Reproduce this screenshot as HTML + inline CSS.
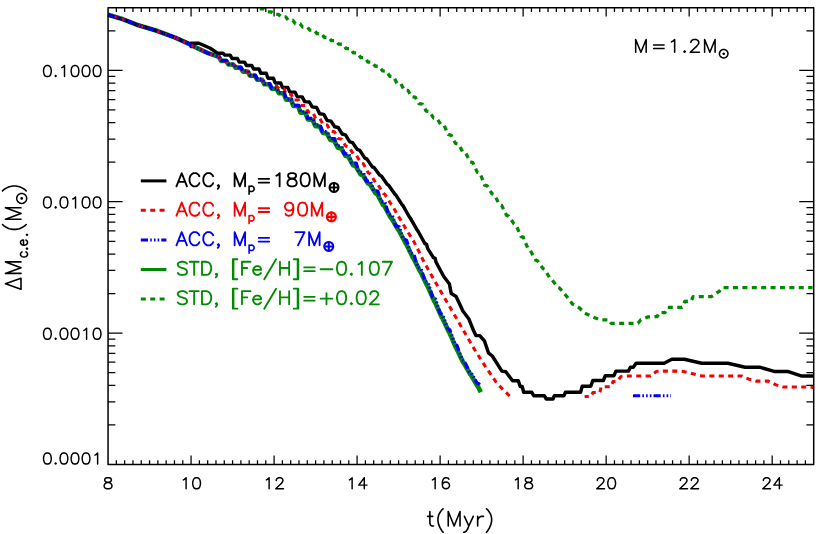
<!DOCTYPE html>
<html lang="en">
<head>
<meta charset="utf-8">
<title>Delta M c.e. vs t (Myr), M=1.2 Msun</title>
<style>
html,body{margin:0;padding:0;background:#ffffff;}
body{width:830px;height:534px;overflow:hidden;font-family:"Liberation Sans",sans-serif;}
svg{display:block;}
</style>
</head>
<body>
<svg width="830" height="534" viewBox="0 0 830 534">
<rect x="0" y="0" width="830" height="534" fill="#ffffff"/>
<g fill="none" stroke-linejoin="round" stroke-linecap="butt">
<path d="M108.1 14.8 L123.1 19.3 L136.6 24.7 L155.9 30.5 L175.2 37.6 L190.6 44.6 L191.0 45.2 L207.9 53.1 L218.7 56.7 L221.3 61.0 L226.1 61.0 L228.5 64.5 L233.3 64.5 L235.7 67.8 L240.5 67.8 L242.9 71.6 L247.7 71.6 L250.1 75.8 L254.9 75.8 L257.3 79.8 L262.1 79.8 L264.5 84.3 L269.3 84.3 L271.7 88.7 L276.5 88.7 L278.9 93.3 L283.7 93.3 L286.1 99.6 L290.9 99.6 L293.3 106.0 L298.1 106.0 L300.5 112.6 L305.3 112.7 L307.9 119.4 L312.5 119.7 L315.4 126.1 L319.7 126.5 L323.0 133.0 L326.9 133.5 L330.5 140.1 L334.1 140.7 L338.0 147.8 L341.3 148.5 L345.5 155.9 L348.5 156.8 L353.0 165.2 L355.7 166.1 L360.5 174.3 L362.9 175.3 L368.0 183.5 L370.1 184.5 L375.5 193.3 L377.3 194.2 L383.0 205.0 L384.5 206.1 L390.6 217.6 L391.7 218.5 L398.1 229.7 L398.9 230.5 L405.6 243.3 L406.1 243.7 L412.8 257.5 L413.3 258.0 L420.0 271.3 L420.5 271.7 L427.2 285.8 L427.7 286.4 L434.4 301.5 L434.9 302.1 L441.6 317.0 L442.1 317.5 L448.8 331.8 L449.3 332.3 L456.0 347.8 L456.5 348.4 L463.2 362.4 L463.7 362.8 L470.4 374.5 L470.9 374.8 L477.6 386.3 L478.1 386.8 L480.8 392.3" stroke="#008a00" stroke-width="4.6"/>
<path d="M258.7 7.8 L258.7 8.9 L264.0 8.9 L266.6 11.8 L271.2 11.8 L273.8 14.3 L278.4 14.3 L281.0 16.8 L285.6 16.8 L288.2 20.2 L292.8 20.2 L295.4 23.8 L300.0 23.8 L302.6 27.0 L307.2 27.0 L309.8 30.1 L314.4 30.1 L317.0 33.7 L321.6 33.7 L324.2 37.3 L328.8 37.3 L331.4 40.7 L336.0 40.7 L338.7 44.2 L343.2 44.3 L346.0 48.5 L350.4 48.6 L353.3 52.9 L357.6 53.0 L360.6 57.5 L364.8 57.7 L367.9 62.0 L372.0 62.2 L375.2 66.2 L379.2 66.3 L382.5 70.9 L386.4 71.2 L389.8 76.3 L393.6 76.7 L397.0 83.3 L400.8 83.7 L404.3 90.2 L408.0 90.5 L411.6 96.7 L415.2 97.2 L418.9 103.6 L422.4 104.1 L426.2 111.1 L429.6 111.6 L433.5 118.0 L436.8 118.5 L440.8 124.4 L444.0 125.1 L448.1 134.4 L451.2 135.3 L455.4 143.3 L458.4 144.0 L462.7 151.8 L465.6 152.6 L470.0 161.7 L472.8 162.6 L477.3 172.2 L480.0 173.0 L484.6 185.1 L487.2 185.9 L491.9 193.7 L494.4 194.5 L499.2 204.4 L501.6 205.3 L506.5 215.2 L508.8 216.3 L513.8 223.6 L516.0 225.1 L521.1 236.6 L523.2 237.2 L528.4 249.6 L530.4 250.7 L535.7 260.1 L537.6 260.9 L543.0 268.6 L544.8 269.5 L550.3 278.9 L552.0 279.7 L557.6 287.1 L559.2 287.7 L560.0 288.7 L560.8 289.5 L566.6 296.3 L572.4 304.0 L579.2 307.8 L584.9 313.2 L592.7 316.9 L600.4 319.8 L609.0 319.8 L611.0 323.3 L638.0 323.3 L640.8 319.8 L647.6 316.9 L657.2 316.5 L659.2 312.7 L664.9 312.7 L667.8 307.4 L682.0 307.4 L684.8 301.5 L691.2 301.0 L693.1 296.6 L711.4 296.6 L719.2 291.4 L722.0 287.7 L812.5 287.7" stroke="#008a00" stroke-width="3.3" stroke-dasharray="5 4.4" stroke-dashoffset="7.26"/>
<path d="M108.1 14.8 L123.1 19.3 L136.6 24.7 L155.9 30.5 L175.2 37.6 L190.6 44.3 L191.2 46.6 L191.0 43.2 L198.9 43.2 L210.3 48.3 L217.5 53.1 L217.5 53.2 L223.0 53.2 L224.8 55.1 L230.2 55.1 L232.0 58.5 L237.4 58.5 L239.2 62.1 L244.6 62.1 L246.4 65.4 L251.8 65.4 L253.6 69.0 L259.0 69.0 L260.8 73.2 L266.2 73.2 L268.0 78.3 L273.4 78.3 L275.2 82.9 L280.6 82.9 L282.4 87.4 L287.8 87.4 L289.7 91.9 L295.0 92.1 L297.2 96.6 L302.2 96.9 L304.7 101.6 L309.4 102.0 L312.2 106.9 L316.6 107.5 L319.7 113.8 L323.8 114.4 L327.2 120.5 L331.0 121.1 L334.7 126.8 L338.2 127.5 L342.2 134.0 L345.4 134.9 L349.8 141.9 L352.6 142.7 L357.3 149.5 L359.8 150.4 L364.8 158.1 L367.0 159.1 L372.3 166.9 L374.2 167.7 L379.8 175.2 L381.4 176.0 L387.3 184.4 L388.6 185.2 L394.8 194.1 L395.8 194.9 L402.3 205.2 L403.0 205.7 L409.7 217.5 L410.2 217.9 L416.9 229.7 L417.4 230.2 L418.5 232.0 L424.9 243.6 L426.6 244.4 L427.6 248.4 L433.4 257.6 L435.2 258.4 L436.0 262.0 L443.6 276.3 L449.4 284.0 L451.3 293.6 L456.1 296.5 L462.9 311.0 L468.7 318.7 L473.3 330.0 L475.9 335.6 L479.8 335.6 L484.6 341.2 L488.4 352.8 L492.3 356.0 L501.9 371.1 L505.8 371.7 L512.5 380.7 L518.3 380.7 L520.2 386.5 L522.2 386.5 L523.7 392.3 L531.8 392.3 L533.7 395.7 L544.3 395.7 L546.3 399.0 L553.0 399.0 L554.4 395.7 L564.0 395.7 L565.4 392.3 L580.6 392.3 L582.2 386.3 L590.8 386.3 L592.8 380.5 L603.4 380.5 L605.3 375.7 L614.0 375.7 L615.9 371.1 L628.4 371.1 L630.4 367.2 L633.3 367.2 L636.1 363.3 L664.1 363.3 L671.8 359.3 L684.3 359.3 L701.7 363.3 L727.8 363.3 L745.2 367.2 L759.6 367.2 L774.1 371.4 L787.6 371.4 L801.1 375.9 L813.6 375.9" stroke="#000000" stroke-width="3.45"/>
<path d="M108.1 14.8 L123.1 19.3 L136.6 24.7 L155.9 30.5 L175.2 37.6 L190.6 44.6 L191.0 45.2 L207.9 53.1 L218.7 56.7 L218.7 57.7 L219.2 57.7 L221.4 61.1 L226.4 61.1 L228.6 64.6 L233.6 64.6 L235.8 67.9 L240.8 67.9 L243.0 71.7 L248.0 71.7 L250.2 75.9 L255.2 75.9 L257.4 79.9 L262.4 79.9 L264.6 83.9 L269.6 83.9 L271.8 86.2 L276.8 86.2 L279.0 88.7 L284.0 88.7 L286.2 94.2 L291.2 94.2 L293.4 99.9 L298.4 99.9 L300.6 105.5 L305.6 105.6 L308.1 112.0 L312.8 112.3 L315.6 118.3 L320.0 118.7 L323.1 124.5 L327.2 125.0 L330.6 131.2 L334.4 131.8 L338.1 138.6 L341.6 139.3 L345.7 146.0 L348.8 146.8 L353.2 153.8 L356.0 154.7 L360.7 162.6 L363.2 163.6 L368.2 172.8 L370.4 173.9 L375.8 183.1 L377.6 184.1 L383.3 193.4 L384.8 194.3 L390.8 203.8 L392.0 204.7 L398.3 216.7 L399.2 217.4 L405.9 229.0 L406.4 229.5 L413.1 240.7 L413.6 241.1 L420.0 253.6 L423.4 260.8 L432.0 276.3 L439.8 289.8 L446.5 301.3 L453.3 312.9 L459.0 322.8 L466.3 335.4 L475.9 351.8 L486.5 368.2 L497.1 383.6 L509.6 396.0" stroke="#f60000" stroke-width="3.05" stroke-dasharray="5 4.4" stroke-dashoffset="5.42"/>
<path d="M584.6 396.5 L591.0 396.5 L593.0 392.5 L600.0 392.5 L601.0 386.8 L611.0 386.8 L613.0 381.5 L617.0 381.5 L621.0 376.5 L626.5 375.9 L650.6 375.9 L656.4 371.4 L664.0 371.1 L677.6 371.1 L683.5 371.4 L701.8 375.9 L741.3 375.9 L749.0 379.2 L755.8 381.1 L768.3 381.1 L776.0 384.9 L782.8 386.9 L810.7 386.9 L813.6 387.8" stroke="#f60000" stroke-width="3.05" stroke-dasharray="5 4.4" stroke-dashoffset="0.8"/>
<path d="M108.1 14.8 L123.1 19.3 L136.6 24.7 L155.9 30.5 L175.2 37.6 L190.6 44.6 L191.0 45.2 L207.9 53.1 L218.7 56.7 L218.7 57.0 L219.4 57.0 L221.4 60.5 L226.6 60.5 L228.6 64.1 L233.8 64.1 L235.8 67.3 L241.0 67.3 L243.0 71.0 L248.2 71.0 L250.2 75.2 L255.4 75.2 L257.4 79.3 L262.6 79.3 L264.6 83.7 L269.8 83.7 L271.8 88.2 L277.0 88.2 L279.0 92.7 L284.2 92.7 L286.2 99.1 L291.4 99.1 L293.4 105.4 L298.6 105.4 L300.6 111.9 L305.8 111.9 L307.8 118.4 L313.0 118.4 L315.0 125.0 L320.2 125.0 L322.2 131.6 L327.4 131.6 L329.4 138.6 L334.6 138.6 L336.7 146.0 L341.8 146.2 L344.1 153.7 L349.0 154.0 L351.5 162.9 L356.2 163.3 L358.8 172.0 L363.4 172.5 L366.2 181.0 L370.6 181.6 L373.6 190.6 L377.8 191.3 L381.0 201.2 L385.0 202.3 L388.4 214.2 L392.2 215.2 L395.7 225.9 L399.4 227.0 L403.1 239.1 L406.6 240.4 L410.5 253.1 L413.8 254.5 L417.9 267.3 L421.0 268.7 L425.2 281.5 L428.2 283.1 L432.6 297.2 L435.4 298.9 L440.0 313.1 L442.6 314.7 L447.4 328.2 L449.8 329.8 L454.8 344.0 L457.0 345.7 L462.1 359.9 L464.2 361.1 L469.5 372.0 L471.4 373.2 L476.9 383.0 L478.6 383.6 L481.0 386.3" stroke="#0000fa" stroke-width="3.4" stroke-dasharray="7.2 2.2 1.6 2.1 1.6 2.1 1.6 2.1"/>
<path d="M633 395.8 L670.9 395.8" stroke="#0000fa" stroke-width="3" stroke-dasharray="7.2 2.2 1.6 2.1 1.6 2.1 1.6 2.1"/>
</g>
<path d="M116.35 464.45 V460.15 M116.35 7.70 V12.00 M124.65 464.45 V460.15 M124.65 7.70 V12.00 M132.96 464.45 V460.15 M132.96 7.70 V12.00 M141.26 464.45 V460.15 M141.26 7.70 V12.00 M149.56 464.45 V460.15 M149.56 7.70 V12.00 M157.86 464.45 V460.15 M157.86 7.70 V12.00 M166.16 464.45 V460.15 M166.16 7.70 V12.00 M174.46 464.45 V460.15 M174.46 7.70 V12.00 M182.77 464.45 V460.15 M182.77 7.70 V12.00 M191.07 464.45 V455.55 M191.07 7.70 V16.60 M199.37 464.45 V460.15 M199.37 7.70 V12.00 M207.67 464.45 V460.15 M207.67 7.70 V12.00 M215.97 464.45 V460.15 M215.97 7.70 V12.00 M224.27 464.45 V460.15 M224.27 7.70 V12.00 M232.58 464.45 V460.15 M232.58 7.70 V12.00 M240.88 464.45 V460.15 M240.88 7.70 V12.00 M249.18 464.45 V460.15 M249.18 7.70 V12.00 M257.48 464.45 V460.15 M257.48 7.70 V12.00 M265.78 464.45 V460.15 M265.78 7.70 V12.00 M274.09 464.45 V455.55 M274.09 7.70 V16.60 M282.39 464.45 V460.15 M282.39 7.70 V12.00 M290.69 464.45 V460.15 M290.69 7.70 V12.00 M298.99 464.45 V460.15 M298.99 7.70 V12.00 M307.29 464.45 V460.15 M307.29 7.70 V12.00 M315.59 464.45 V460.15 M315.59 7.70 V12.00 M323.90 464.45 V460.15 M323.90 7.70 V12.00 M332.20 464.45 V460.15 M332.20 7.70 V12.00 M340.50 464.45 V460.15 M340.50 7.70 V12.00 M348.80 464.45 V460.15 M348.80 7.70 V12.00 M357.10 464.45 V455.55 M357.10 7.70 V16.60 M365.40 464.45 V460.15 M365.40 7.70 V12.00 M373.71 464.45 V460.15 M373.71 7.70 V12.00 M382.01 464.45 V460.15 M382.01 7.70 V12.00 M390.31 464.45 V460.15 M390.31 7.70 V12.00 M398.61 464.45 V460.15 M398.61 7.70 V12.00 M406.91 464.45 V460.15 M406.91 7.70 V12.00 M415.22 464.45 V460.15 M415.22 7.70 V12.00 M423.52 464.45 V460.15 M423.52 7.70 V12.00 M431.82 464.45 V460.15 M431.82 7.70 V12.00 M440.12 464.45 V455.55 M440.12 7.70 V16.60 M448.42 464.45 V460.15 M448.42 7.70 V12.00 M456.72 464.45 V460.15 M456.72 7.70 V12.00 M465.03 464.45 V460.15 M465.03 7.70 V12.00 M473.33 464.45 V460.15 M473.33 7.70 V12.00 M481.63 464.45 V460.15 M481.63 7.70 V12.00 M489.93 464.45 V460.15 M489.93 7.70 V12.00 M498.23 464.45 V460.15 M498.23 7.70 V12.00 M506.53 464.45 V460.15 M506.53 7.70 V12.00 M514.84 464.45 V460.15 M514.84 7.70 V12.00 M523.14 464.45 V455.55 M523.14 7.70 V16.60 M531.44 464.45 V460.15 M531.44 7.70 V12.00 M539.74 464.45 V460.15 M539.74 7.70 V12.00 M548.04 464.45 V460.15 M548.04 7.70 V12.00 M556.35 464.45 V460.15 M556.35 7.70 V12.00 M564.65 464.45 V460.15 M564.65 7.70 V12.00 M572.95 464.45 V460.15 M572.95 7.70 V12.00 M581.25 464.45 V460.15 M581.25 7.70 V12.00 M589.55 464.45 V460.15 M589.55 7.70 V12.00 M597.85 464.45 V460.15 M597.85 7.70 V12.00 M606.16 464.45 V455.55 M606.16 7.70 V16.60 M614.46 464.45 V460.15 M614.46 7.70 V12.00 M622.76 464.45 V460.15 M622.76 7.70 V12.00 M631.06 464.45 V460.15 M631.06 7.70 V12.00 M639.36 464.45 V460.15 M639.36 7.70 V12.00 M647.66 464.45 V460.15 M647.66 7.70 V12.00 M655.97 464.45 V460.15 M655.97 7.70 V12.00 M664.27 464.45 V460.15 M664.27 7.70 V12.00 M672.57 464.45 V460.15 M672.57 7.70 V12.00 M680.87 464.45 V460.15 M680.87 7.70 V12.00 M689.17 464.45 V455.55 M689.17 7.70 V16.60 M697.48 464.45 V460.15 M697.48 7.70 V12.00 M705.78 464.45 V460.15 M705.78 7.70 V12.00 M714.08 464.45 V460.15 M714.08 7.70 V12.00 M722.38 464.45 V460.15 M722.38 7.70 V12.00 M730.68 464.45 V460.15 M730.68 7.70 V12.00 M738.98 464.45 V460.15 M738.98 7.70 V12.00 M747.29 464.45 V460.15 M747.29 7.70 V12.00 M755.59 464.45 V460.15 M755.59 7.70 V12.00 M763.89 464.45 V460.15 M763.89 7.70 V12.00 M772.19 464.45 V455.55 M772.19 7.70 V16.60 M780.49 464.45 V460.15 M780.49 7.70 V12.00 M788.79 464.45 V460.15 M788.79 7.70 V12.00 M797.10 464.45 V460.15 M797.10 7.70 V12.00 M805.40 464.45 V460.15 M805.40 7.70 V12.00 M108.05 424.91 H115.35 M813.70 424.91 H806.40 M108.05 401.78 H115.35 M813.70 401.78 H806.40 M108.05 385.36 H115.35 M813.70 385.36 H806.40 M108.05 372.63 H115.35 M813.70 372.63 H806.40 M108.05 362.23 H115.35 M813.70 362.23 H806.40 M108.05 353.44 H115.35 M813.70 353.44 H806.40 M108.05 345.82 H115.35 M813.70 345.82 H806.40 M108.05 339.10 H115.35 M813.70 339.10 H806.40 M108.05 333.09 H122.55 M813.70 333.09 H799.20 M108.05 293.55 H115.35 M813.70 293.55 H806.40 M108.05 270.42 H115.35 M813.70 270.42 H806.40 M108.05 254.01 H115.35 M813.70 254.01 H806.40 M108.05 241.28 H115.35 M813.70 241.28 H806.40 M108.05 230.87 H115.35 M813.70 230.87 H806.40 M108.05 222.08 H115.35 M813.70 222.08 H806.40 M108.05 214.46 H115.35 M813.70 214.46 H806.40 M108.05 207.74 H115.35 M813.70 207.74 H806.40 M108.05 201.73 H122.55 M813.70 201.73 H799.20 M108.05 162.19 H115.35 M813.70 162.19 H806.40 M108.05 139.06 H115.35 M813.70 139.06 H806.40 M108.05 122.65 H115.35 M813.70 122.65 H806.40 M108.05 109.92 H115.35 M813.70 109.92 H806.40 M108.05 99.52 H115.35 M813.70 99.52 H806.40 M108.05 90.72 H115.35 M813.70 90.72 H806.40 M108.05 83.10 H115.35 M813.70 83.10 H806.40 M108.05 76.38 H115.35 M813.70 76.38 H806.40 M108.05 70.37 H122.55 M813.70 70.37 H799.20 M108.05 30.83 H115.35 M813.70 30.83 H806.40" fill="none" stroke="#000000" stroke-width="1.25"/>
<rect x="108.05" y="7.70" width="705.65" height="456.75" fill="none" stroke="#000000" stroke-width="1.5" stroke-linejoin="round"/>
<path d="M140.8 180.9 H166.4" stroke="#000000" stroke-width="3" fill="none"/>
<path d="M140.8 210.3 H166.4" stroke="#f60000" stroke-width="3" fill="none" stroke-dasharray="5 4.4"/>
<path d="M140.8 239.9 H166.4" stroke="#0000fa" stroke-width="3" fill="none" stroke-dasharray="7.2 2.2 1.6 2.1 1.6 2.1 1.6 2.1"/>
<path d="M140.8 269.5 H166.4" stroke="#008a00" stroke-width="3" fill="none"/>
<path d="M140.8 298.9 H166.4" stroke="#008a00" stroke-width="3" fill="none" stroke-dasharray="5 4.4"/>
<path d="M46.85 65.55 L45.19 66.07 L44.09 67.65 L43.54 70.27 L43.54 71.85 L44.09 74.47 L45.19 76.05 L46.85 76.57 L47.95 76.57 L49.61 76.05 L50.71 74.47 L51.26 71.85 L51.26 70.27 L50.71 67.65 L49.61 66.07 L47.95 65.55 L46.85 65.55 M55.68 75.52 L55.13 76.05 L55.68 76.57 L56.23 76.05 L55.68 75.52 M61.75 67.65 L62.86 67.12 L64.51 65.55 L64.51 76.57 M74.45 65.55 L72.79 66.07 L71.69 67.65 L71.14 70.27 L71.14 71.85 L71.69 74.47 L72.79 76.05 L74.45 76.57 L75.55 76.57 L77.21 76.05 L78.31 74.47 L78.86 71.85 L78.86 70.27 L78.31 67.65 L77.21 66.07 L75.55 65.55 L74.45 65.55 M85.49 65.55 L83.83 66.07 L82.73 67.65 L82.18 70.27 L82.18 71.85 L82.73 74.47 L83.83 76.05 L85.49 76.57 L86.59 76.57 L88.25 76.05 L89.35 74.47 L89.90 71.85 L89.90 70.27 L89.35 67.65 L88.25 66.07 L86.59 65.55 L85.49 65.55 M96.53 65.55 L94.87 66.07 L93.77 67.65 L93.22 70.27 L93.22 71.85 L93.77 74.47 L94.87 76.05 L96.53 76.57 L97.63 76.57 L99.29 76.05 L100.39 74.47 L100.94 71.85 L100.94 70.27 L100.39 67.65 L99.29 66.07 L97.63 65.55 L96.53 65.55" fill="none" stroke="#000000" stroke-width="1.45" stroke-linecap="round" stroke-linejoin="round"/>
<path d="M46.85 196.91 L45.19 197.43 L44.09 199.01 L43.54 201.63 L43.54 203.21 L44.09 205.83 L45.19 207.41 L46.85 207.93 L47.95 207.93 L49.61 207.41 L50.71 205.83 L51.26 203.21 L51.26 201.63 L50.71 199.01 L49.61 197.43 L47.95 196.91 L46.85 196.91 M55.68 206.88 L55.13 207.41 L55.68 207.93 L56.23 207.41 L55.68 206.88 M63.41 196.91 L61.75 197.43 L60.65 199.01 L60.10 201.63 L60.10 203.21 L60.65 205.83 L61.75 207.41 L63.41 207.93 L64.51 207.93 L66.17 207.41 L67.27 205.83 L67.82 203.21 L67.82 201.63 L67.27 199.01 L66.17 197.43 L64.51 196.91 L63.41 196.91 M72.79 199.01 L73.90 198.48 L75.55 196.91 L75.55 207.93 M85.49 196.91 L83.83 197.43 L82.73 199.01 L82.18 201.63 L82.18 203.21 L82.73 205.83 L83.83 207.41 L85.49 207.93 L86.59 207.93 L88.25 207.41 L89.35 205.83 L89.90 203.21 L89.90 201.63 L89.35 199.01 L88.25 197.43 L86.59 196.91 L85.49 196.91 M96.53 196.91 L94.87 197.43 L93.77 199.01 L93.22 201.63 L93.22 203.21 L93.77 205.83 L94.87 207.41 L96.53 207.93 L97.63 207.93 L99.29 207.41 L100.39 205.83 L100.94 203.21 L100.94 201.63 L100.39 199.01 L99.29 197.43 L97.63 196.91 L96.53 196.91" fill="none" stroke="#000000" stroke-width="1.45" stroke-linecap="round" stroke-linejoin="round"/>
<path d="M46.85 328.27 L45.19 328.79 L44.09 330.37 L43.54 332.99 L43.54 334.57 L44.09 337.19 L45.19 338.77 L46.85 339.29 L47.95 339.29 L49.61 338.77 L50.71 337.19 L51.26 334.57 L51.26 332.99 L50.71 330.37 L49.61 328.79 L47.95 328.27 L46.85 328.27 M55.68 338.24 L55.13 338.77 L55.68 339.29 L56.23 338.77 L55.68 338.24 M63.41 328.27 L61.75 328.79 L60.65 330.37 L60.10 332.99 L60.10 334.57 L60.65 337.19 L61.75 338.77 L63.41 339.29 L64.51 339.29 L66.17 338.77 L67.27 337.19 L67.82 334.57 L67.82 332.99 L67.27 330.37 L66.17 328.79 L64.51 328.27 L63.41 328.27 M74.45 328.27 L72.79 328.79 L71.69 330.37 L71.14 332.99 L71.14 334.57 L71.69 337.19 L72.79 338.77 L74.45 339.29 L75.55 339.29 L77.21 338.77 L78.31 337.19 L78.86 334.57 L78.86 332.99 L78.31 330.37 L77.21 328.79 L75.55 328.27 L74.45 328.27 M83.83 330.37 L84.94 329.84 L86.59 328.27 L86.59 339.29 M96.53 328.27 L94.87 328.79 L93.77 330.37 L93.22 332.99 L93.22 334.57 L93.77 337.19 L94.87 338.77 L96.53 339.29 L97.63 339.29 L99.29 338.77 L100.39 337.19 L100.94 334.57 L100.94 332.99 L100.39 330.37 L99.29 328.79 L97.63 328.27 L96.53 328.27" fill="none" stroke="#000000" stroke-width="1.45" stroke-linecap="round" stroke-linejoin="round"/>
<path d="M46.85 453.03 L45.19 453.55 L44.09 455.12 L43.54 457.75 L43.54 459.32 L44.09 461.95 L45.19 463.53 L46.85 464.05 L47.95 464.05 L49.61 463.53 L50.71 461.95 L51.26 459.32 L51.26 457.75 L50.71 455.12 L49.61 453.55 L47.95 453.03 L46.85 453.03 M55.68 463.00 L55.13 463.53 L55.68 464.05 L56.23 463.53 L55.68 463.00 M63.41 453.03 L61.75 453.55 L60.65 455.12 L60.10 457.75 L60.10 459.32 L60.65 461.95 L61.75 463.53 L63.41 464.05 L64.51 464.05 L66.17 463.53 L67.27 461.95 L67.82 459.32 L67.82 457.75 L67.27 455.12 L66.17 453.55 L64.51 453.03 L63.41 453.03 M74.45 453.03 L72.79 453.55 L71.69 455.12 L71.14 457.75 L71.14 459.32 L71.69 461.95 L72.79 463.53 L74.45 464.05 L75.55 464.05 L77.21 463.53 L78.31 461.95 L78.86 459.32 L78.86 457.75 L78.31 455.12 L77.21 453.55 L75.55 453.03 L74.45 453.03 M85.49 453.03 L83.83 453.55 L82.73 455.12 L82.18 457.75 L82.18 459.32 L82.73 461.95 L83.83 463.53 L85.49 464.05 L86.59 464.05 L88.25 463.53 L89.35 461.95 L89.90 459.32 L89.90 457.75 L89.35 455.12 L88.25 453.55 L86.59 453.03 L85.49 453.03 M94.87 455.12 L95.98 454.60 L97.63 453.03 L97.63 464.05" fill="none" stroke="#000000" stroke-width="1.45" stroke-linecap="round" stroke-linejoin="round"/>
<path d="M106.95 477.78 L105.29 478.30 L104.74 479.35 L104.74 480.40 L105.29 481.45 L106.39 481.98 L108.60 482.50 L110.26 483.03 L111.36 484.07 L111.91 485.12 L111.91 486.70 L111.36 487.75 L110.81 488.28 L109.15 488.80 L106.95 488.80 L105.29 488.28 L104.74 487.75 L104.19 486.70 L104.19 485.12 L104.74 484.07 L105.84 483.03 L107.50 482.50 L109.71 481.98 L110.81 481.45 L111.36 480.40 L111.36 479.35 L110.81 478.30 L109.15 477.78 L106.95 477.78" fill="none" stroke="#000000" stroke-width="1.45" stroke-linecap="round" stroke-linejoin="round"/>
<path d="M183.34 479.88 L184.44 479.35 L186.10 477.78 L186.10 488.80 M196.04 477.78 L194.38 478.30 L193.28 479.88 L192.72 482.50 L192.72 484.07 L193.28 486.70 L194.38 488.28 L196.04 488.80 L197.14 488.80 L198.80 488.28 L199.90 486.70 L200.45 484.07 L200.45 482.50 L199.90 479.88 L198.80 478.30 L197.14 477.78 L196.04 477.78" fill="none" stroke="#000000" stroke-width="1.45" stroke-linecap="round" stroke-linejoin="round"/>
<path d="M266.36 479.88 L267.46 479.35 L269.12 477.78 L269.12 488.80 M276.29 480.40 L276.29 479.88 L276.85 478.82 L277.40 478.30 L278.50 477.78 L280.71 477.78 L281.81 478.30 L282.37 478.82 L282.92 479.88 L282.92 480.93 L282.37 481.98 L281.26 483.55 L275.74 488.80 L283.47 488.80" fill="none" stroke="#000000" stroke-width="1.45" stroke-linecap="round" stroke-linejoin="round"/>
<path d="M349.37 479.88 L350.48 479.35 L352.13 477.78 L352.13 488.80 M364.28 477.78 L358.76 485.12 L367.04 485.12 M364.28 477.78 L364.28 488.80" fill="none" stroke="#000000" stroke-width="1.45" stroke-linecap="round" stroke-linejoin="round"/>
<path d="M432.39 479.88 L433.50 479.35 L435.15 477.78 L435.15 488.80 M448.95 479.35 L448.40 478.30 L446.74 477.78 L445.64 477.78 L443.98 478.30 L442.88 479.88 L442.33 482.50 L442.33 485.12 L442.88 487.23 L443.98 488.28 L445.64 488.80 L446.19 488.80 L447.85 488.28 L448.95 487.23 L449.50 485.65 L449.50 485.12 L448.95 483.55 L447.85 482.50 L446.19 481.98 L445.64 481.98 L443.98 482.50 L442.88 483.55 L442.33 485.12" fill="none" stroke="#000000" stroke-width="1.45" stroke-linecap="round" stroke-linejoin="round"/>
<path d="M515.41 479.88 L516.51 479.35 L518.17 477.78 L518.17 488.80 M527.55 477.78 L525.90 478.30 L525.35 479.35 L525.35 480.40 L525.90 481.45 L527.00 481.98 L529.21 482.50 L530.87 483.03 L531.97 484.07 L532.52 485.12 L532.52 486.70 L531.97 487.75 L531.42 488.28 L529.76 488.80 L527.55 488.80 L525.90 488.28 L525.35 487.75 L524.79 486.70 L524.79 485.12 L525.35 484.07 L526.45 483.03 L528.11 482.50 L530.31 481.98 L531.42 481.45 L531.97 480.40 L531.97 479.35 L531.42 478.30 L529.76 477.78 L527.55 477.78" fill="none" stroke="#000000" stroke-width="1.45" stroke-linecap="round" stroke-linejoin="round"/>
<path d="M597.32 480.40 L597.32 479.88 L597.88 478.82 L598.43 478.30 L599.53 477.78 L601.74 477.78 L602.84 478.30 L603.40 478.82 L603.95 479.88 L603.95 480.93 L603.40 481.98 L602.29 483.55 L596.77 488.80 L604.50 488.80 M611.12 477.78 L609.47 478.30 L608.36 479.88 L607.81 482.50 L607.81 484.07 L608.36 486.70 L609.47 488.28 L611.12 488.80 L612.23 488.80 L613.88 488.28 L614.99 486.70 L615.54 484.07 L615.54 482.50 L614.99 479.88 L613.88 478.30 L612.23 477.78 L611.12 477.78" fill="none" stroke="#000000" stroke-width="1.45" stroke-linecap="round" stroke-linejoin="round"/>
<path d="M680.34 480.40 L680.34 479.88 L680.89 478.82 L681.45 478.30 L682.55 477.78 L684.76 477.78 L685.86 478.30 L686.41 478.82 L686.97 479.88 L686.97 480.93 L686.41 481.98 L685.31 483.55 L679.79 488.80 L687.52 488.80 M691.38 480.40 L691.38 479.88 L691.93 478.82 L692.49 478.30 L693.59 477.78 L695.80 477.78 L696.90 478.30 L697.45 478.82 L698.01 479.88 L698.01 480.93 L697.45 481.98 L696.35 483.55 L690.83 488.80 L698.56 488.80" fill="none" stroke="#000000" stroke-width="1.45" stroke-linecap="round" stroke-linejoin="round"/>
<path d="M763.36 480.40 L763.36 479.88 L763.91 478.82 L764.46 478.30 L765.57 477.78 L767.78 477.78 L768.88 478.30 L769.43 478.82 L769.98 479.88 L769.98 480.93 L769.43 481.98 L768.33 483.55 L762.81 488.80 L770.54 488.80 M779.37 477.78 L773.85 485.12 L782.13 485.12 M779.37 477.78 L779.37 488.80" fill="none" stroke="#000000" stroke-width="1.45" stroke-linecap="round" stroke-linejoin="round"/>
<path d="M429.88 511.51 L429.88 523.24 L430.61 525.31 L432.08 526.00 L433.55 526.00 M427.67 516.34 L432.81 516.34 M443.11 508.75 L441.63 510.13 L440.16 512.20 L438.69 514.96 L437.96 518.41 L437.96 521.17 L438.69 524.62 L440.16 527.79 L441.63 530.49 L443.11 532.28 M448.25 511.51 L448.25 526.00 M448.25 511.51 L454.13 526.00 M460.01 511.51 L454.13 526.00 M460.01 511.51 L460.01 526.00 M464.42 516.34 L468.83 526.00 M473.24 516.34 L468.83 526.00 L467.36 529.59 L465.89 531.38 L464.42 532.28 L463.69 532.28 M477.65 516.34 L477.65 526.00 M477.65 520.48 L478.38 518.41 L479.86 517.03 L481.32 516.34 L483.53 516.34 M486.47 508.75 L487.94 510.13 L489.41 512.20 L490.88 514.96 L491.62 518.41 L491.62 521.17 L490.88 524.62 L489.41 527.79 L487.94 530.49 L486.47 532.28" fill="none" stroke="#000000" stroke-width="1.60" stroke-linecap="round" stroke-linejoin="round"/>
<path d="M5.46 283.76 L21.00 289.20 M5.46 283.76 L21.00 278.32 M21.00 289.20 L21.00 278.32" fill="none" stroke="#000000" stroke-width="1.60" stroke-linecap="round" stroke-linejoin="round"/>
<path d="M5.46 273.40 L21.00 273.40 M5.46 273.40 L21.00 267.64 M5.46 261.88 L21.00 267.64 M5.46 261.88 L21.00 261.88" fill="none" stroke="#000000" stroke-width="1.60" stroke-linecap="round" stroke-linejoin="round"/>
<path d="M22.00 251.89 L21.00 252.75 L20.50 253.61 L20.50 254.90 L21.00 255.76 L22.00 256.62 L23.50 257.05 L24.50 257.05 L26.00 256.62 L27.00 255.76 L27.50 254.90 L27.50 253.61 L27.00 252.75 L26.00 251.89" fill="none" stroke="#000000" stroke-width="1.55" stroke-linecap="round" stroke-linejoin="round"/>
<path d="M26.50 248.60 L27.00 249.03 L27.50 248.60 L27.00 248.17 L26.50 248.60" fill="none" stroke="#000000" stroke-width="1.70" stroke-linecap="round" stroke-linejoin="round"/>
<path d="M23.50 245.25 L23.50 240.09 L22.50 240.09 L21.50 240.52 L21.00 240.95 L20.50 241.81 L20.50 243.10 L21.00 243.96 L22.00 244.82 L23.50 245.25 L24.50 245.25 L26.00 244.82 L27.00 243.96 L27.50 243.10 L27.50 241.81 L27.00 240.95 L26.00 240.09" fill="none" stroke="#000000" stroke-width="1.55" stroke-linecap="round" stroke-linejoin="round"/>
<path d="M26.50 234.80 L27.00 235.23 L27.50 234.80 L27.00 234.37 L26.50 234.80" fill="none" stroke="#000000" stroke-width="1.70" stroke-linecap="round" stroke-linejoin="round"/>
<path d="M2.50 224.50 L3.98 225.90 L6.20 227.30 L9.16 228.70 L12.86 229.40 L15.82 229.40 L19.52 228.70 L22.48 227.30 L24.70 225.90 L26.18 224.50" fill="none" stroke="#000000" stroke-width="1.60" stroke-linecap="round" stroke-linejoin="round"/>
<path d="M5.46 219.20 L21.00 219.20 M5.46 219.20 L21.00 213.44 M5.46 207.68 L21.00 213.44 M5.46 207.68 L21.00 207.68" fill="none" stroke="#000000" stroke-width="1.60" stroke-linecap="round" stroke-linejoin="round"/>
<path d="M26.70 198.40 L26.53 199.69 L26.03 200.90 L25.24 201.94 L24.20 202.73 L22.99 203.23 L21.70 203.40 L20.41 203.23 L19.20 202.73 L18.16 201.94 L17.37 200.90 L16.87 199.69 L16.70 198.40 L16.87 197.11 L17.37 195.90 L18.16 194.86 L19.20 194.07 L20.41 193.57 L21.70 193.40 L22.99 193.57 L24.20 194.07 L25.24 194.86 L26.03 195.90 L26.53 197.11 L26.70 198.40" fill="none" stroke="#000000" stroke-width="1.50" stroke-linecap="round" stroke-linejoin="round"/>
<path d="M22.40 198.40 L22.19 198.89 L21.70 199.10 L21.21 198.89 L21.00 198.40 L21.21 197.91 L21.70 197.70 L22.19 197.91 L22.40 198.40" fill="none" stroke="#000000" stroke-width="1.50" stroke-linecap="round" stroke-linejoin="round"/>
<path d="M2.50 190.90 L3.98 189.50 L6.20 188.10 L9.16 186.70 L12.86 186.00 L15.82 186.00 L19.52 186.70 L22.48 188.10 L24.70 189.50 L26.18 190.90" fill="none" stroke="#000000" stroke-width="1.60" stroke-linecap="round" stroke-linejoin="round"/>
<path d="M635.67 39.50 L635.67 52.20 M635.67 39.50 L640.91 52.20 M646.15 39.50 L640.91 52.20 M646.15 39.50 L646.15 52.20" fill="none" stroke="#000000" stroke-width="1.55" stroke-linecap="round" stroke-linejoin="round"/>
<path d="M653.60 44.94 L664.08 44.94 M653.60 48.57 L664.08 48.57" fill="none" stroke="#000000" stroke-width="1.55" stroke-linecap="round" stroke-linejoin="round"/>
<path d="M671.38 41.92 L672.69 41.31 L674.66 39.50 L674.66 52.20" fill="none" stroke="#000000" stroke-width="1.55" stroke-linecap="round" stroke-linejoin="round"/>
<path d="M684.62 50.99 L683.97 51.60 L684.62 52.20 L685.28 51.60 L684.62 50.99" fill="none" stroke="#000000" stroke-width="1.55" stroke-linecap="round" stroke-linejoin="round"/>
<path d="M690.92 42.52 L690.92 41.92 L691.57 40.71 L692.23 40.10 L693.54 39.50 L696.16 39.50 L697.47 40.10 L698.12 40.71 L698.78 41.92 L698.78 43.12 L698.12 44.34 L696.81 46.15 L690.26 52.20 L699.43 52.20" fill="none" stroke="#000000" stroke-width="1.55" stroke-linecap="round" stroke-linejoin="round"/>
<path d="M704.62 39.50 L704.62 52.20 M704.62 39.50 L709.86 52.20 M715.10 39.50 L709.86 52.20 M715.10 39.50 L715.10 52.20" fill="none" stroke="#000000" stroke-width="1.55" stroke-linecap="round" stroke-linejoin="round"/>
<path d="M727.95 53.70 L727.81 54.80 L727.38 55.83 L726.71 56.71 L725.83 57.38 L724.80 57.81 L723.70 57.95 L722.60 57.81 L721.58 57.38 L720.69 56.71 L720.02 55.83 L719.59 54.80 L719.45 53.70 L719.59 52.60 L720.02 51.58 L720.69 50.69 L721.58 50.02 L722.60 49.59 L723.70 49.45 L724.80 49.59 L725.83 50.02 L726.71 50.69 L727.38 51.58 L727.81 52.60 L727.95 53.70" fill="none" stroke="#000000" stroke-width="1.50" stroke-linecap="round" stroke-linejoin="round"/>
<path d="M724.30 53.70 L724.12 54.12 L723.70 54.30 L723.28 54.12 L723.10 53.70 L723.28 53.28 L723.70 53.10 L724.12 53.28 L724.30 53.70" fill="none" stroke="#000000" stroke-width="1.40" stroke-linecap="round" stroke-linejoin="round"/>
<path d="M181.70 173.18 L176.46 186.30 M181.70 173.18 L186.94 186.30 M178.42 181.93 L184.97 181.93 M199.38 176.30 L198.73 175.05 L197.42 173.80 L196.11 173.18 L193.49 173.18 L192.18 173.80 L190.87 175.05 L190.21 176.30 L189.56 178.18 L189.56 181.30 L190.21 183.18 L190.87 184.43 L192.18 185.68 L193.49 186.30 L196.11 186.30 L197.42 185.68 L198.73 184.43 L199.38 183.18 M213.14 176.30 L212.48 175.05 L211.17 173.80 L209.86 173.18 L207.24 173.18 L205.93 173.80 L204.62 175.05 L203.97 176.30 L203.31 178.18 L203.31 181.30 L203.97 183.18 L204.62 184.43 L205.93 185.68 L207.24 186.30 L209.86 186.30 L211.17 185.68 L212.48 184.43 L213.14 183.18 M219.03 185.68 L218.38 186.30 L217.72 185.68 L218.38 185.05 L219.03 185.68 L219.03 186.93 L218.38 188.18 L217.72 188.80" fill="none" stroke="#000000" stroke-width="1.85" stroke-linecap="round" stroke-linejoin="round"/>
<path d="M234.62 173.18 L234.62 186.30 M234.62 173.18 L239.86 186.30 M245.10 173.18 L239.86 186.30 M245.10 173.18 L245.10 186.30" fill="none" stroke="#000000" stroke-width="1.85" stroke-linecap="round" stroke-linejoin="round"/>
<path d="M249.08 186.11 L249.08 194.19 M249.08 187.26 L249.92 186.50 L250.76 186.11 L252.02 186.11 L252.86 186.50 L253.70 187.26 L254.12 188.42 L254.12 189.19 L253.70 190.34 L252.86 191.12 L252.02 191.50 L250.76 191.50 L249.92 191.12 L249.08 190.34" fill="none" stroke="#000000" stroke-width="1.60" stroke-linecap="round" stroke-linejoin="round"/>
<path d="M258.68 178.80 L269.16 178.80 M258.68 182.55 L269.16 182.55 M276.36 175.68 L277.67 175.05 L279.63 173.18 L279.63 186.30 M290.77 173.18 L288.81 173.80 L288.15 175.05 L288.15 176.30 L288.81 177.55 L290.12 178.18 L292.74 178.80 L294.70 179.43 L296.01 180.68 L296.67 181.93 L296.67 183.80 L296.01 185.05 L295.36 185.68 L293.39 186.30 L290.77 186.30 L288.81 185.68 L288.15 185.05 L287.50 183.80 L287.50 181.93 L288.15 180.68 L289.46 179.43 L291.43 178.80 L294.05 178.18 L295.36 177.55 L296.01 176.30 L296.01 175.05 L295.36 173.80 L293.39 173.18 L290.77 173.18 M304.52 173.18 L302.56 173.80 L301.25 175.68 L300.60 178.80 L300.60 180.68 L301.25 183.80 L302.56 185.68 L304.52 186.30 L305.84 186.30 L307.80 185.68 L309.11 183.80 L309.76 180.68 L309.76 178.80 L309.11 175.68 L307.80 173.80 L305.84 173.18 L304.52 173.18 M314.35 173.18 L314.35 186.30 M314.35 173.18 L319.59 186.30 M324.83 173.18 L319.59 186.30 M324.83 173.18 L324.83 186.30" fill="none" stroke="#000000" stroke-width="1.85" stroke-linecap="round" stroke-linejoin="round"/>
<path d="M338.50 187.45 L338.28 186.06 L337.64 184.80 L336.65 183.81 L335.39 183.17 L334.00 182.95 L332.61 183.17 L331.35 183.81 L330.36 184.80 L329.72 186.06 L329.50 187.45 L329.72 188.84 L330.36 190.10 L331.35 191.09 L332.61 191.73 L334.00 191.95 L335.39 191.73 L336.65 191.09 L337.64 190.10 L338.28 188.84 L338.50 187.45 M334.00 191.95 L334.00 182.95 M329.50 187.45 L338.50 187.45" fill="none" stroke="#000000" stroke-width="2.05" stroke-linecap="round" stroke-linejoin="round"/>
<path d="M181.70 202.57 L176.46 215.70 M181.70 202.57 L186.94 215.70 M178.42 211.32 L184.97 211.32 M199.38 205.70 L198.73 204.45 L197.42 203.20 L196.11 202.57 L193.49 202.57 L192.18 203.20 L190.87 204.45 L190.21 205.70 L189.56 207.57 L189.56 210.70 L190.21 212.57 L190.87 213.82 L192.18 215.07 L193.49 215.70 L196.11 215.70 L197.42 215.07 L198.73 213.82 L199.38 212.57 M213.14 205.70 L212.48 204.45 L211.17 203.20 L209.86 202.57 L207.24 202.57 L205.93 203.20 L204.62 204.45 L203.97 205.70 L203.31 207.57 L203.31 210.70 L203.97 212.57 L204.62 213.82 L205.93 215.07 L207.24 215.70 L209.86 215.70 L211.17 215.07 L212.48 213.82 L213.14 212.57 M219.03 215.07 L218.38 215.70 L217.72 215.07 L218.38 214.45 L219.03 215.07 L219.03 216.32 L218.38 217.57 L217.72 218.20" fill="none" stroke="#f60000" stroke-width="1.85" stroke-linecap="round" stroke-linejoin="round"/>
<path d="M234.62 202.57 L234.62 215.70 M234.62 202.57 L239.86 215.70 M245.10 202.57 L239.86 215.70 M245.10 202.57 L245.10 215.70" fill="none" stroke="#f60000" stroke-width="1.85" stroke-linecap="round" stroke-linejoin="round"/>
<path d="M249.08 215.51 L249.08 223.59 M249.08 216.66 L249.92 215.89 L250.76 215.51 L252.02 215.51 L252.86 215.89 L253.70 216.66 L254.12 217.82 L254.12 218.59 L253.70 219.74 L252.86 220.51 L252.02 220.90 L250.76 220.90 L249.92 220.51 L249.08 219.74" fill="none" stroke="#f60000" stroke-width="1.60" stroke-linecap="round" stroke-linejoin="round"/>
<path d="M258.68 208.20 L269.16 208.20 M258.68 211.95 L269.16 211.95 M293.39 206.95 L292.74 208.82 L291.43 210.07 L289.46 210.70 L288.81 210.70 L286.84 210.07 L285.53 208.82 L284.88 206.95 L284.88 206.32 L285.53 204.45 L286.84 203.20 L288.81 202.57 L289.46 202.57 L291.43 203.20 L292.74 204.45 L293.39 206.95 L293.39 210.07 L292.74 213.20 L291.43 215.07 L289.46 215.70 L288.15 215.70 L286.19 215.07 L285.53 213.82 M301.91 202.57 L299.94 203.20 L298.63 205.07 L297.98 208.20 L297.98 210.07 L298.63 213.20 L299.94 215.07 L301.91 215.70 L303.22 215.70 L305.18 215.07 L306.49 213.20 L307.14 210.07 L307.14 208.20 L306.49 205.07 L305.18 203.20 L303.22 202.57 L301.91 202.57 M311.73 202.57 L311.73 215.70 M311.73 202.57 L316.97 215.70 M322.21 202.57 L316.97 215.70 M322.21 202.57 L322.21 215.70" fill="none" stroke="#f60000" stroke-width="1.85" stroke-linecap="round" stroke-linejoin="round"/>
<path d="M335.88 216.85 L335.66 215.46 L335.02 214.20 L334.03 213.21 L332.77 212.57 L331.38 212.35 L329.99 212.57 L328.73 213.21 L327.74 214.20 L327.10 215.46 L326.88 216.85 L327.10 218.24 L327.74 219.50 L328.73 220.49 L329.99 221.13 L331.38 221.35 L332.77 221.13 L334.03 220.49 L335.02 219.50 L335.66 218.24 L335.88 216.85 M331.38 221.35 L331.38 212.35 M326.88 216.85 L335.88 216.85" fill="none" stroke="#f60000" stroke-width="2.05" stroke-linecap="round" stroke-linejoin="round"/>
<path d="M181.70 232.18 L176.46 245.30 M181.70 232.18 L186.94 245.30 M178.42 240.93 L184.97 240.93 M199.38 235.30 L198.73 234.05 L197.42 232.80 L196.11 232.18 L193.49 232.18 L192.18 232.80 L190.87 234.05 L190.21 235.30 L189.56 237.18 L189.56 240.30 L190.21 242.18 L190.87 243.43 L192.18 244.68 L193.49 245.30 L196.11 245.30 L197.42 244.68 L198.73 243.43 L199.38 242.18 M213.14 235.30 L212.48 234.05 L211.17 232.80 L209.86 232.18 L207.24 232.18 L205.93 232.80 L204.62 234.05 L203.97 235.30 L203.31 237.18 L203.31 240.30 L203.97 242.18 L204.62 243.43 L205.93 244.68 L207.24 245.30 L209.86 245.30 L211.17 244.68 L212.48 243.43 L213.14 242.18 M219.03 244.68 L218.38 245.30 L217.72 244.68 L218.38 244.05 L219.03 244.68 L219.03 245.93 L218.38 247.18 L217.72 247.80" fill="none" stroke="#0000fa" stroke-width="1.85" stroke-linecap="round" stroke-linejoin="round"/>
<path d="M234.62 232.18 L234.62 245.30 M234.62 232.18 L239.86 245.30 M245.10 232.18 L239.86 245.30 M245.10 232.18 L245.10 245.30" fill="none" stroke="#0000fa" stroke-width="1.85" stroke-linecap="round" stroke-linejoin="round"/>
<path d="M249.08 245.11 L249.08 253.19 M249.08 246.26 L249.92 245.50 L250.76 245.11 L252.02 245.11 L252.86 245.50 L253.70 246.26 L254.12 247.42 L254.12 248.19 L253.70 249.34 L252.86 250.12 L252.02 250.50 L250.76 250.50 L249.92 250.12 L249.08 249.34" fill="none" stroke="#0000fa" stroke-width="1.60" stroke-linecap="round" stroke-linejoin="round"/>
<path d="M258.68 237.80 L269.16 237.80 M258.68 241.55 L269.16 241.55 M304.52 232.18 L297.98 245.30 M295.36 232.18 L304.52 232.18 M309.11 232.18 L309.11 245.30 M309.11 232.18 L314.35 245.30 M319.59 232.18 L314.35 245.30 M319.59 232.18 L319.59 245.30" fill="none" stroke="#0000fa" stroke-width="1.85" stroke-linecap="round" stroke-linejoin="round"/>
<path d="M333.26 246.45 L333.04 245.06 L332.40 243.80 L331.41 242.81 L330.15 242.17 L328.76 241.95 L327.37 242.17 L326.11 242.81 L325.12 243.80 L324.48 245.06 L324.26 246.45 L324.48 247.84 L325.12 249.10 L326.11 250.09 L327.37 250.73 L328.76 250.95 L330.15 250.73 L331.41 250.09 L332.40 249.10 L333.04 247.84 L333.26 246.45 M328.76 250.95 L328.76 241.95 M324.26 246.45 L333.26 246.45" fill="none" stroke="#0000fa" stroke-width="2.05" stroke-linecap="round" stroke-linejoin="round"/>
<path d="M186.94 263.65 L185.62 262.40 L183.66 261.77 L181.04 261.77 L179.08 262.40 L177.77 263.65 L177.77 264.90 L178.42 266.15 L179.08 266.77 L180.39 267.40 L184.31 268.65 L185.62 269.27 L186.28 269.90 L186.94 271.15 L186.94 273.02 L185.62 274.27 L183.66 274.90 L181.04 274.90 L179.08 274.27 L177.77 273.02 M194.14 261.77 L194.14 274.90 M189.56 261.77 L198.73 261.77 M202.00 261.77 L202.00 274.90 M202.00 261.77 L206.59 261.77 L208.55 262.40 L209.86 263.65 L210.52 264.90 L211.17 266.77 L211.17 269.90 L210.52 271.77 L209.86 273.02 L208.55 274.27 L206.59 274.90 L202.00 274.90 M217.06 274.27 L216.41 274.90 L215.75 274.27 L216.41 273.65 L217.06 274.27 L217.06 275.52 L216.41 276.77 L215.75 277.40" fill="none" stroke="#008a00" stroke-width="1.85" stroke-linecap="round" stroke-linejoin="round"/>
<path d="M232.82 259.27 L232.82 279.27 M233.47 259.27 L233.47 279.27 M232.82 259.27 L237.41 259.27 M232.82 279.27 L237.41 279.27 M241.99 261.77 L241.99 274.90 M241.99 261.77 L250.50 261.77 M241.99 268.02 L247.23 268.02 M253.12 269.90 L260.99 269.90 L260.99 268.65 L260.33 267.40 L259.68 266.77 L258.37 266.15 L256.40 266.15 L255.09 266.77 L253.78 268.02 L253.12 269.90 L253.12 271.15 L253.78 273.02 L255.09 274.27 L256.40 274.90 L258.37 274.90 L259.68 274.27 L260.99 273.02 M276.05 259.27 L264.26 279.27 M279.98 261.77 L279.98 274.90 M289.15 261.77 L289.15 274.90 M279.98 268.02 L289.15 268.02 M297.66 259.27 L297.66 279.27 M298.32 259.27 L298.32 279.27 M293.74 259.27 L298.32 259.27 M293.74 279.27 L298.32 279.27 M304.21 267.40 L314.69 267.40 M304.21 271.15 L314.69 271.15 M320.59 269.27 L332.38 269.27 M340.89 261.77 L338.93 262.40 L337.62 264.27 L336.96 267.40 L336.96 269.27 L337.62 272.40 L338.93 274.27 L340.89 274.90 L342.20 274.90 L344.17 274.27 L345.48 272.40 L346.13 269.27 L346.13 267.40 L345.48 264.27 L344.17 262.40 L342.20 261.77 L340.89 261.77 M351.38 273.65 L350.72 274.27 L351.38 274.90 L352.03 274.27 L351.38 273.65 M358.58 264.27 L359.89 263.65 L361.86 261.77 L361.86 274.90 M373.64 261.77 L371.68 262.40 L370.37 264.27 L369.72 267.40 L369.72 269.27 L370.37 272.40 L371.68 274.27 L373.64 274.90 L374.95 274.90 L376.92 274.27 L378.23 272.40 L378.88 269.27 L378.88 267.40 L378.23 264.27 L376.92 262.40 L374.95 261.77 L373.64 261.77 M391.99 261.77 L385.44 274.90 M382.81 261.77 L391.99 261.77" fill="none" stroke="#008a00" stroke-width="1.85" stroke-linecap="round" stroke-linejoin="round"/>
<path d="M186.94 293.05 L185.62 291.80 L183.66 291.18 L181.04 291.18 L179.08 291.80 L177.77 293.05 L177.77 294.30 L178.42 295.55 L179.08 296.18 L180.39 296.80 L184.31 298.05 L185.62 298.68 L186.28 299.30 L186.94 300.55 L186.94 302.43 L185.62 303.68 L183.66 304.30 L181.04 304.30 L179.08 303.68 L177.77 302.43 M194.14 291.18 L194.14 304.30 M189.56 291.18 L198.73 291.18 M202.00 291.18 L202.00 304.30 M202.00 291.18 L206.59 291.18 L208.55 291.80 L209.86 293.05 L210.52 294.30 L211.17 296.18 L211.17 299.30 L210.52 301.18 L209.86 302.43 L208.55 303.68 L206.59 304.30 L202.00 304.30 M217.06 303.68 L216.41 304.30 L215.75 303.68 L216.41 303.05 L217.06 303.68 L217.06 304.93 L216.41 306.18 L215.75 306.80" fill="none" stroke="#008a00" stroke-width="1.85" stroke-linecap="round" stroke-linejoin="round"/>
<path d="M232.82 288.68 L232.82 308.68 M233.47 288.68 L233.47 308.68 M232.82 288.68 L237.41 288.68 M232.82 308.68 L237.41 308.68 M241.99 291.18 L241.99 304.30 M241.99 291.18 L250.50 291.18 M241.99 297.43 L247.23 297.43 M253.12 299.30 L260.99 299.30 L260.99 298.05 L260.33 296.80 L259.68 296.18 L258.37 295.55 L256.40 295.55 L255.09 296.18 L253.78 297.43 L253.12 299.30 L253.12 300.55 L253.78 302.43 L255.09 303.68 L256.40 304.30 L258.37 304.30 L259.68 303.68 L260.99 302.43 M276.05 288.68 L264.26 308.68 M279.98 291.18 L279.98 304.30 M289.15 291.18 L289.15 304.30 M279.98 297.43 L289.15 297.43 M297.66 288.68 L297.66 308.68 M298.32 288.68 L298.32 308.68 M293.74 288.68 L298.32 288.68 M293.74 308.68 L298.32 308.68 M304.21 296.80 L314.69 296.80 M304.21 300.55 L314.69 300.55 M326.49 293.05 L326.49 304.30 M320.59 298.68 L332.38 298.68 M340.89 291.18 L338.93 291.80 L337.62 293.68 L336.96 296.80 L336.96 298.68 L337.62 301.80 L338.93 303.68 L340.89 304.30 L342.20 304.30 L344.17 303.68 L345.48 301.80 L346.13 298.68 L346.13 296.80 L345.48 293.68 L344.17 291.80 L342.20 291.18 L340.89 291.18 M351.38 303.05 L350.72 303.68 L351.38 304.30 L352.03 303.68 L351.38 303.05 M360.54 291.18 L358.58 291.80 L357.27 293.68 L356.62 296.80 L356.62 298.68 L357.27 301.80 L358.58 303.68 L360.54 304.30 L361.86 304.30 L363.82 303.68 L365.13 301.80 L365.78 298.68 L365.78 296.80 L365.13 293.68 L363.82 291.80 L361.86 291.18 L360.54 291.18 M370.37 294.30 L370.37 293.68 L371.02 292.43 L371.68 291.80 L372.99 291.18 L375.61 291.18 L376.92 291.80 L377.57 292.43 L378.23 293.68 L378.23 294.93 L377.57 296.18 L376.26 298.05 L369.72 304.30 L378.88 304.30" fill="none" stroke="#008a00" stroke-width="1.85" stroke-linecap="round" stroke-linejoin="round"/>
</svg>
</body>
</html>
